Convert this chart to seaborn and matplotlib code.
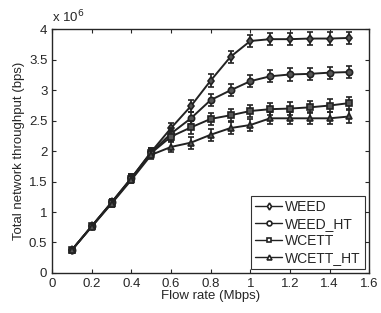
import numpy as np
import pandas as pd
import seaborn as sns
import matplotlib
matplotlib.use('Agg')
import matplotlib.pyplot as plt
from matplotlib.ticker import FuncFormatter

# data (throughput in units of 10^6 bps)
flow = [0.1, 0.2, 0.3, 0.4, 0.5, 0.6, 0.7, 0.8, 0.9, 1.0, 1.1, 1.2, 1.3, 1.4, 1.5]
weed = [0.38, 0.77, 1.16, 1.56, 1.99, 2.38, 2.74, 3.16, 3.55, 3.81, 3.84, 3.84, 3.85, 3.85, 3.86]
weed_ht = [0.38, 0.77, 1.16, 1.56, 1.98, 2.29, 2.54, 2.84, 3.00, 3.15, 3.23, 3.26, 3.27, 3.29, 3.30]
wcett = [0.38, 0.77, 1.15, 1.55, 1.97, 2.24, 2.39, 2.53, 2.59, 2.66, 2.69, 2.70, 2.72, 2.75, 2.79]
wcett_ht = [0.38, 0.76, 1.14, 1.53, 1.94, 2.07, 2.14, 2.27, 2.38, 2.43, 2.54, 2.54, 2.54, 2.54, 2.57]
err = [0.03, 0.04, 0.05, 0.06, 0.07, 0.09, 0.1, 0.1, 0.1, 0.1, 0.1, 0.1, 0.1, 0.1, 0.1]

names = ['WEED', 'WEED_HT', 'WCETT', 'WCETT_HT']
series = [weed, weed_ht, wcett, wcett_ht]
marks = ['d', 'o', 's', '^']

sns.set_style('ticks')
plt.rcParams['font.family'] = ['Liberation Sans', 'DejaVu Sans']
plt.rcParams['font.size'] = 9.5

fig = plt.figure(figsize=(3.81, 3.13), dpi=100)
ax = fig.add_axes([0.137, 0.128, 0.832, 0.778])

for name, vals, m in zip(names, series, marks):
    df = pd.DataFrame({'x': flow, 'y': np.array(vals) * 1e6})
    ax.errorbar(df['x'], df['y'], yerr=np.array(err) * 1e6, fmt='none',
                ecolor='#222222', elinewidth=1.2, capsize=2.5, capthick=1.2)
    sns.lineplot(data=df, x='x', y='y', ax=ax, color='#222222', lw=1.4,
                 marker=m, markersize=4.5, markerfacecolor='#555555',
                 markeredgecolor='#222222', markeredgewidth=1.2, label=name)

ax.set_xlim(0, 1.6)
ax.set_ylim(0, 4e6)
ax.set_xticks(np.arange(0, 1.61, 0.2))
ax.set_yticks(np.arange(0, 4.01e6, 0.5e6))
ax.xaxis.set_major_formatter(FuncFormatter(lambda v, p: '%g' % round(v, 1)))
ax.yaxis.set_major_formatter(FuncFormatter(lambda v, p: '%g' % (v / 1e6)))
ax.tick_params(direction='in', top=True, right=True, length=3, width=0.8, labelsize=9.5)
for s in ax.spines.values():
    s.set_linewidth(1.0)
ax.set_xlabel('Flow rate (Mbps)', fontsize=9.5, labelpad=0)
ax.set_ylabel('Total network throughput (bps)', fontsize=9.5, labelpad=3)
ax.text(0.0, 1.015, r'x 10$^6$', transform=ax.transAxes, fontsize=9.5, ha='left', va='bottom')

leg = ax.legend(loc='lower right', frameon=True, fancybox=False, fontsize=10,
                handlelength=2.0, borderpad=0.3, labelspacing=0.2,
                handletextpad=0.2, borderaxespad=0.3)
leg.get_frame().set_edgecolor('black')
leg.get_frame().set_linewidth(0.8)
for h in leg.legend_handles:
    h.set_markerfacecolor('white')
    h.set_markersize(3.5)
    h.set_linewidth(1.0)

fig.savefig('out.png', dpi=100)
